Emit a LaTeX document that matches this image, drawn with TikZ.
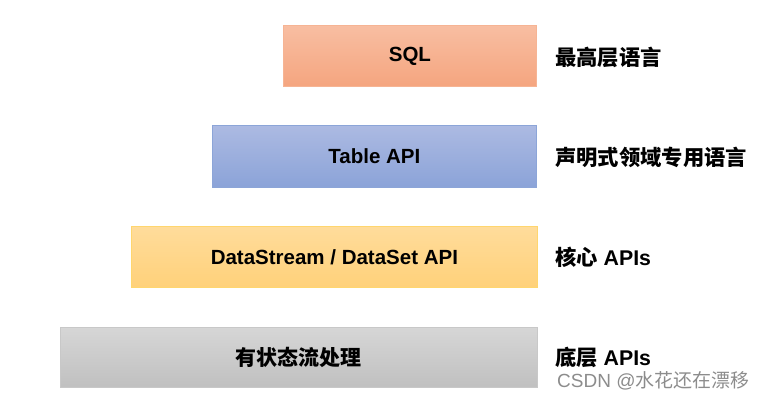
\documentclass[tikz,border=0pt]{standalone}
\usepackage{fontspec}
\setmainfont{Liberation Sans}
\newfontfamily\cjk{Noto Sans CJK SC}
\definecolor{sqlT}{RGB}{248,190,162}
\definecolor{sqlB}{RGB}{245,165,127}
\definecolor{sqlD}{RGB}{246,180,148}
\definecolor{tabT}{RGB}{172,186,226}
\definecolor{tabB}{RGB}{139,163,216}
\definecolor{tabD}{RGB}{140,165,216}
\definecolor{dsT}{RGB}{255,220,155}
\definecolor{dsB}{RGB}{255,209,122}
\definecolor{dsD}{RGB}{255,214,110}
\definecolor{stT}{RGB}{214,214,214}
\definecolor{stB}{RGB}{192,192,192}
\definecolor{stD}{RGB}{200,200,200}
\definecolor{wmC}{RGB}{140,140,140}
\begin{document}
\begin{tikzpicture}[x=1pt,y=-1pt,
  layer/.style={draw=#1, line width=0.8pt, anchor=north west, inner sep=0pt,
    font=\fontsize{20.5}{24}\selectfont\bfseries, text=black},
  lab/.style={anchor=west, inner sep=0pt, font=\fontsize{21.3}{24}\selectfont\bfseries, text=black},
  wmark/.style={anchor=west, inner sep=0pt, font=\fontsize{19}{22}\selectfont, text=wmC}]
\useasboundingbox (0,0) rectangle (762,400);
\node[layer=sqlD, top color=sqlT, bottom color=sqlB,
  minimum width=253pt, minimum height=61pt] (sql) at (283,25) {SQL};
\node[layer=tabD, top color=tabT, bottom color=tabB,
  minimum width=324pt, minimum height=62pt] (table) at (212,125) {Table API};
\node[layer=dsD, top color=dsT, bottom color=dsB,
  minimum width=406pt, minimum height=61pt] (ds) at (131,226) {DataStream / DataSet API};
\node[layer=stD, top color=stT, bottom color=stB,
  minimum width=477pt, minimum height=60pt, font=\cjk\fontsize{21}{24}\selectfont\bfseries] (state) at (60,327) {有状态流处理};
\node[lab] (l1) at (555,57) {\cjk 最高层语言};
\node[lab] (l2) at (555,157) {\cjk 声明式领域专用语言};
\node[lab] (l3) at (555,257) {{\cjk 核心} APIs};
\node[lab] (l4) at (555,357) {{\cjk 底层} APIs};
\node[wmark] (wm) at (557,381) {CSDN @{\cjk 水花还在漂移}};
\end{tikzpicture}
\end{document}
